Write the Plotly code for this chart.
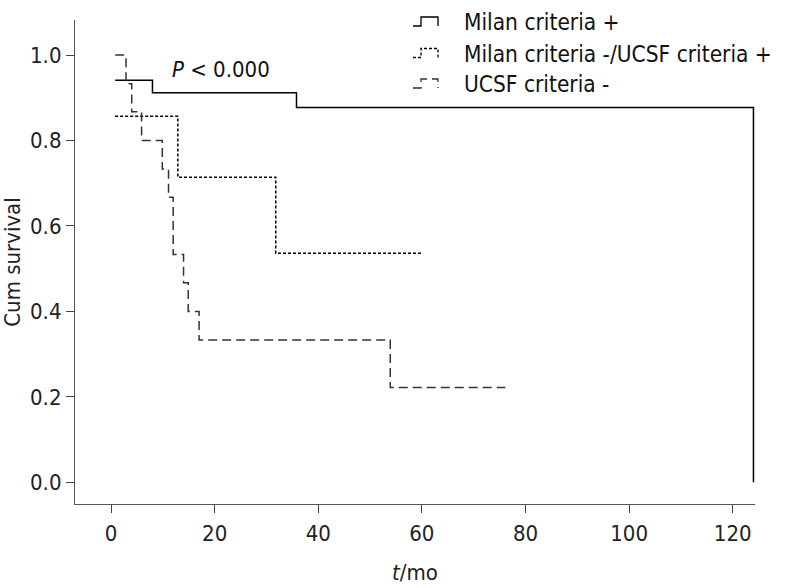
import plotly.graph_objects as go

# Kaplan-Meier step data
milan_pos_t = [0.8, 8.0, 35.8, 124.0, 124.0]
milan_pos_s = [0.941, 0.912, 0.877, 0.877, 0.0]

milan_neg_t = [0.8, 12.9, 31.8, 60.2]
milan_neg_s = [0.857, 0.714, 0.536, 0.536]

ucsf_neg_t = [0.8, 2.9, 4.0, 5.9, 9.9, 11.1, 12.0, 14.0, 14.9, 17.0, 53.9, 76.1]
ucsf_neg_s = [1.0, 0.933, 0.867, 0.8, 0.733, 0.667, 0.533, 0.467, 0.4, 0.333, 0.222, 0.222]

series_names = ["Milan criteria +", "Milan criteria -/UCSF criteria +", "UCSF criteria -"]
x_ticks = [0, 20, 40, 60, 80, 100, 120]
y_ticks = [0.0, 0.2, 0.4, 0.6, 0.8, 1.0]

FONT = "DejaVu Sans Condensed, DejaVu Sans"
FS = 22

W, H = 787, 588
ML, MR, MT, MB = 75, 32, 20, 84
PW, PH = W - ML - MR, H - MT - MB

styles = [
    dict(color="black", width=1.5, dash="solid"),
    dict(color="black", width=1.5, dash="3px,2px"),
    dict(color="#333333", width=1.5, dash="9px,5px"),
]

fig = go.Figure()
for t, s, name, st in zip([milan_pos_t, milan_neg_t, ucsf_neg_t],
                          [milan_pos_s, milan_neg_s, ucsf_neg_s], series_names, styles):
    fig.add_trace(go.Scatter(x=t, y=s, mode="lines", name=name, showlegend=False,
                             line=dict(shape="hv", **st)))

# manual legend (step-shaped keys + text) placed like the reference
row_px = [22, 53.5, 84]
for name, st, py in zip(series_names, styles, row_px):
    yp = (H - MB - py) / PH
    fig.add_shape(type="path", xref="paper", yref="paper",
                  xsizemode="pixel", ysizemode="pixel",
                  xanchor=(413 - ML) / PW, yanchor=yp,
                  path="M 0,-4 L 8,-4 L 8,5 L 25,5 L 25,-4",
                  line=dict(color=st["color"], width=1.3, dash=st["dash"]))
    fig.add_annotation(x=(462 - ML) / PW, y=yp, xref="paper", yref="paper",
                       xanchor="left", yanchor="middle", text=name, showarrow=False,
                       font=dict(family=FONT, size=22.5, color="#111"))

fig.add_annotation(x=21.3, y=0.965, xref="x", yref="y", text="<i>P</i> &lt; 0.000",
                   showarrow=False, font=dict(family=FONT, size=FS, color="#111"))

fig.update_layout(
    width=W, height=H,
    margin=dict(l=ML, r=MR, t=MT, b=MB, autoexpand=False),
    paper_bgcolor="white", plot_bgcolor="white",
    font=dict(family=FONT, size=FS, color="#222"),
    showlegend=False,
    xaxis=dict(range=[-6.95, 124.3], tickvals=x_ticks, ticks="outside", ticklen=8,
               tickcolor="#444", showline=True, linecolor="#555", linewidth=1.2,
               showgrid=False, zeroline=False, ticklabelstandoff=1,
               title=dict(text="<i>t</i>/mo", standoff=20, font=dict(family=FONT, size=FS)),
               tickfont=dict(family=FONT, size=FS)),
    yaxis=dict(range=[-0.0508, 1.082], tickvals=y_ticks, tickformat=".1f", ticks="outside",
               ticklen=8, tickcolor="#444", showline=True, linecolor="#555", linewidth=1.2,
               showgrid=False, zeroline=False,
               title=dict(text="Cum survival", standoff=6, font=dict(family=FONT, size=FS)),
               tickfont=dict(family=FONT, size=FS)),
)

fig.write_html("out.html", config={"displayModeBar": False},
               post_script="document.body.style.margin='0';")
